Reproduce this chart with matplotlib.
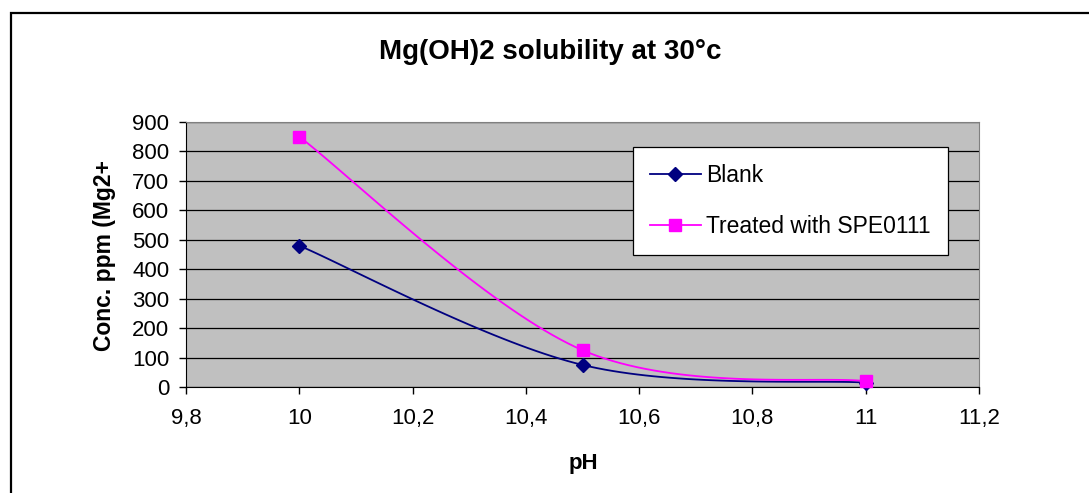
import numpy as np
import matplotlib
matplotlib.use("Agg")
import matplotlib.pyplot as plt
from matplotlib.patches import Rectangle
from matplotlib.ticker import FuncFormatter

plt.rcParams["font.family"] = ["Liberation Sans", "DejaVu Sans"]

# data
ph = [10.0, 10.5, 11.0]
blank = [480, 75, 15]
treated = [850, 125, 20]
series_names = ["Blank", "Treated with SPE0111"]

NAVY, MAGENTA, PLOTBG = "#000080", "#FF00FF", "#C0C0C0"


def smooth(ax, xs, ys, n=40):
    """Excel-like smoothed line: Catmull-Rom bezier in display space."""
    pts = ax.transData.transform(np.column_stack([xs, ys]))
    ext = np.vstack([pts[0], pts, pts[-1]])
    out = []
    t = np.linspace(0, 1, n)[:, None]
    for i in range(len(pts) - 1):
        p0, p1 = ext[i + 1], ext[i + 2]
        c1 = p0 + (ext[i + 2] - ext[i]) / 6
        c2 = p1 - (ext[i + 3] - ext[i + 1]) / 6
        seg = ((1 - t) ** 3) * p0 + 3 * ((1 - t) ** 2) * t * c1 + 3 * (1 - t) * t ** 2 * c2 + t ** 3 * p1
        out.append(seg)
    out = np.vstack(out)
    return ax.transData.inverted().transform(out).T


fig = plt.figure(figsize=(10.89, 4.93), dpi=100)
fig.patches.append(Rectangle((11 / 1089, -0.1), 1.2, 1.1 - 13 / 493, transform=fig.transFigure,
                             fill=False, edgecolor="black", linewidth=1.6))

ax = fig.add_axes([186 / 1089, 1 - 387 / 493, (979 - 186) / 1089, (387 - 122) / 493])
ax.set_facecolor(PLOTBG)
ax.set_xlim(9.8, 11.2)
ax.set_ylim(0, 900)
ax.set_xticks(np.arange(9.8, 11.21, 0.2))
ax.set_yticks(range(0, 901, 100))
ax.xaxis.set_major_formatter(FuncFormatter(lambda v, p: f"{v:g}".replace(".", ",")))
ax.yaxis.grid(True, color="black", linewidth=0.9)
ax.set_axisbelow(True)
for s in ("top", "right"):
    ax.spines[s].set_color("#808080")
for s in ("left", "bottom"):
    ax.spines[s].set_color("black")
ax.tick_params(axis="both", direction="out", length=5, width=1, labelsize=16, color="black")
ax.tick_params(axis="x", pad=10)
ax.tick_params(axis="y", pad=7)

for ys, col, mk, ms, name in [(blank, NAVY, "D", 7, series_names[0]),
                              (treated, MAGENTA, "s", 8, series_names[1])]:
    sx, sy = smooth(ax, ph, ys)
    ax.plot(sx, sy, color=col, lw=1.3, zorder=3)
    ax.plot(ph, ys, ls="none", marker=mk, ms=ms, color=col, zorder=4, clip_on=False)
    ax.plot([], [], color=col, lw=1.3, marker=mk, ms=ms, label=name)

leg = ax.legend(loc="upper left", bbox_to_anchor=((633 - 186) / 793, (387 - 147) / 265),
                frameon=True, fancybox=False, fontsize=16.5, handlelength=2.2,
                labelspacing=1.2, borderpad=0.75, handletextpad=0.25, borderaxespad=0,
                facecolor="white", framealpha=1)
leg.get_frame().set_edgecolor("black")
leg.get_frame().set_linewidth(0.9)

fig.text(550 / 1089, 1 - 52 / 493, "Mg(OH)2 solubility at 30°c", ha="center", va="center",
         fontsize=20, fontweight="bold")
fig.text(583 / 1089, 1 - 463 / 493, "pH", ha="center", va="center", fontsize=16, fontweight="bold")
fig.text(105 / 1089, 1 - 256 / 493, "Conc. ppm (Mg2+", ha="center", va="center", rotation=90,
         fontsize=16.5, fontweight="bold")

fig.savefig("out.png", dpi=100)
